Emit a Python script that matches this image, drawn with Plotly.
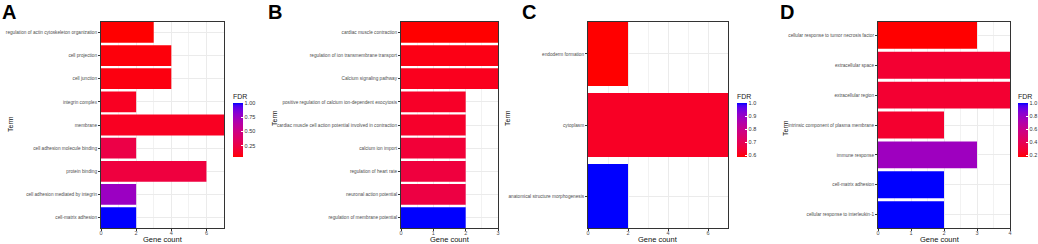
import numpy as np
import plotly.graph_objects as go

W, H = 1038, 244

# ---------------- data (top-to-bottom order as displayed) ----------------
terms_a = ["regulation of actin cytoskeleton organization", "cell projection", "cell junction",
           "integrin complex", "membrane", "cell adhesion molecule binding", "protein binding",
           "cell adhesion mediated by integrin", "cell-matrix adhesion"]
count_a = [3, 4, 4, 2, 7, 2, 6, 2, 2]
fdr_a = [0.05, 0.07, 0.08, 0.12, 0.12, 0.25, 0.22, 0.76, 1.0]

terms_b = ["cardiac muscle contraction", "regulation of ion transmembrane transport",
           "Calcium signaling pathway", "positive regulation of calcium ion-dependent exocytosis",
           "cardiac muscle cell action potential involved in contraction", "calcium ion import",
           "regulation of heart rate", "neuronal action potential", "regulation of membrane potential"]
count_b = [3, 3, 3, 2, 2, 2, 2, 2, 2]
fdr_b = [0.03, 0.07, 0.09, 0.12, 0.13, 0.18, 0.2, 0.22, 1.0]

terms_c = ["endoderm formation", "cytoplasm", "anatomical structure morphogenesis"]
count_c = [2, 7, 2]
fdr_c = [0.585, 0.62, 1.0]

terms_d = ["cellular response to tumor necrosis factor", "extracellular space", "extracellular region",
           "intrinsic component of plasma membrane", "immune response", "cell-matrix adhesion",
           "cellular response to interleukin-1"]
count_d = [3, 4, 4, 2, 3, 2, 2]
fdr_d = [0.17, 0.28, 0.28, 0.27, 0.78, 1.0, 1.0]

panel_letters = ["A", "B", "C", "D"]
x_ticks_a = [0, 2, 4, 6]
x_ticks_b = [0, 1, 2, 3]
x_ticks_c = [0, 2, 4, 6]
x_ticks_d = [0, 1, 2, 3, 4]


# ---------------- red -> blue gradient in CIELAB (like ggplot2) ----------------
def _lin(c):
    c = c / 255.0
    return np.where(c <= 0.04045, c / 12.92, ((c + 0.055) / 1.055) ** 2.4)


def _delin(c):
    c = np.where(c <= 0.0031308, 12.92 * c, 1.055 * np.power(np.clip(c, 0, None), 1 / 2.4) - 0.055)
    return np.clip(np.round(c * 255), 0, 255).astype(int)


M = np.array([[0.4124, 0.3576, 0.1805], [0.2126, 0.7152, 0.0722], [0.0193, 0.1192, 0.9505]])
Minv = np.linalg.inv(M)
WP = np.array([0.95047, 1.0, 1.08883])


def rgb2lab(rgb):
    xyz = M @ _lin(np.array(rgb, float)) / WP
    f = np.where(xyz > 0.008856, np.cbrt(xyz), 7.787 * xyz + 16 / 116)
    return np.array([116 * f[1] - 16, 500 * (f[0] - f[1]), 200 * (f[1] - f[2])])


def lab2rgb(lab):
    L, a, b = lab
    fy = (L + 16) / 116
    fx = fy + a / 500
    fz = fy - b / 200
    f = np.array([fx, fy, fz])
    xyz = np.where(f ** 3 > 0.008856, f ** 3, (f - 16 / 116) / 7.787) * WP
    return _delin(Minv @ xyz)


lab_lo = rgb2lab([255, 0, 0])
lab_hi = rgb2lab([0, 0, 255])
cscale = []
for t in np.linspace(0, 1, 21):
    r, g, b = lab2rgb(lab_lo + (lab_hi - lab_lo) * t)
    cscale.append([float(t), f"rgb({r},{g},{b})"])

# ---------------- layout geometry ----------------
panels = [
    dict(terms=terms_a, count=count_a, fdr=fdr_a, xr=[0, 7], ticks=x_ticks_a, px=(101, 224),
         cb=dict(x=233, fmt=".2f", dtick=0.25), term_xy=(10, 124), gc_x=163, letter_x=0),
    dict(terms=terms_b, count=count_b, fdr=fdr_b, xr=[0, 3], ticks=x_ticks_b, px=(401, 498),
         cb=None, term_xy=(274, 118), gc_x=450, letter_x=266),
    dict(terms=terms_c, count=count_c, fdr=fdr_c, xr=[0, 7], ticks=x_ticks_c, px=(588, 728),
         cb=dict(x=737, fmt=".1f", dtick=0.1), term_xy=(507, 118), gc_x=658, letter_x=520),
    dict(terms=terms_d, count=count_d, fdr=fdr_d, xr=[0, 4], ticks=x_ticks_d, px=(878, 1010),
         cb=dict(x=1018, fmt=".1f", dtick=0.2), term_xy=(785, 128), gc_x=940, letter_x=778),
]

PT, PB = 22, 228  # plot top / bottom in px
ydom = [1 - PB / H, 1 - PT / H]

LBL_FONT = "Liberation Sans, Arial, Helvetica"
MAIN_FONT = "Liberation Sans, Arial, Helvetica"

fig = go.Figure()
annotations = []
for i, p in enumerate(panels):
    k = "" if i == 0 else str(i + 1)
    n = len(p["terms"])
    fig.add_trace(go.Bar(
        x=p["count"], y=p["terms"], orientation="h",
        marker=dict(color=p["fdr"], coloraxis="coloraxis" + k, line=dict(width=0)),
        xaxis="x" + k, yaxis="y" + k, showlegend=False,
    ))
    minor_step = (p["ticks"][1] - p["ticks"][0]) / 2
    fig.layout["xaxis" + k] = dict(
        domain=[p["px"][0] / W, p["px"][1] / W], anchor="y" + k, range=p["xr"], automargin=False,
        tickmode="array", tickvals=p["ticks"], ticks="outside", ticklen=2, tickcolor="#333333",
        ticklabelstandoff=-3,
        tickfont=dict(size=5.5, color="#4D4D4D", family=MAIN_FONT),
        showgrid=True, gridcolor="#EBEBEB", gridwidth=1,
        minor=dict(tick0=minor_step, dtick=2 * minor_step, showgrid=True, gridcolor="#F2F2F2", gridwidth=0.6),
        showline=True, linecolor="#333333", linewidth=1, mirror=True, zeroline=False, fixedrange=True,
    )
    fig.layout["yaxis" + k] = dict(
        domain=ydom, anchor="x" + k, type="category", categoryorder="array", categoryarray=p["terms"],
        range=[n - 1 + 0.45, -0.45], ticks="outside", ticklen=2, tickcolor="#333333", automargin=False,
        tickfont=dict(size=4.7, color="#4D4D4D", family=LBL_FONT),
        showgrid=True, gridcolor="#EBEBEB", gridwidth=1,
        showline=True, linecolor="#333333", linewidth=1, mirror=True, zeroline=False, fixedrange=True,
    )
    cmin, cmax = min(p["fdr"]), max(p["fdr"])
    ca = dict(colorscale=cscale, cmin=cmin, cmax=cmax, showscale=p["cb"] is not None)
    if p["cb"] is not None:
        ca["colorbar"] = dict(
            x=p["cb"]["x"] / W, xanchor="left", xpad=0, y=1 - 91 / H, yanchor="top", ypad=0,
            lenmode="pixels", len=66, thicknessmode="pixels", thickness=10, outlinewidth=0,
            tickmode="linear", tick0=1.0, dtick=p["cb"]["dtick"], tickformat=p["cb"]["fmt"],
            ticks="inside", ticklen=2, tickcolor="white",
            tickfont=dict(size=5.5, color="#333333", family=MAIN_FONT),
            title=dict(text="FDR", side="top", font=dict(size=7, color="#222222", family=MAIN_FONT)),
        )
    fig.layout["coloraxis" + k] = ca

    annotations.append(dict(text="Term", x=p["term_xy"][0] / W, y=1 - p["term_xy"][1] / H,
                            xref="paper", yref="paper", showarrow=False, textangle=-90,
                            xanchor="center", yanchor="middle",
                            font=dict(size=7, color="#111111", family=MAIN_FONT)))
    annotations.append(dict(text="Gene count", x=p["gc_x"] / W, y=1 - 239.5 / H,
                            xref="paper", yref="paper", showarrow=False,
                            xanchor="center", yanchor="middle",
                            font=dict(size=7.5, color="#111111", family=MAIN_FONT)))
    annotations.append(dict(text="<b>" + panel_letters[i] + "</b>", x=p["letter_x"] / W, y=1 + 1 / H,
                            xref="paper", yref="paper", showarrow=False,
                            xanchor="left", yanchor="top",
                            font=dict(size=20, color="black", family=MAIN_FONT)))

fig.update_layout(
    width=W, height=H, margin=dict(l=0, r=0, t=0, b=0, autoexpand=False),
    paper_bgcolor="white", plot_bgcolor="white", bargap=0.1,
    annotations=annotations,
)

fig.write_html("out.html", config={"displayModeBar": False},
               post_script="document.body.style.margin='0px';document.body.style.padding='0px';"
                           "document.body.style.overflow='hidden';")
